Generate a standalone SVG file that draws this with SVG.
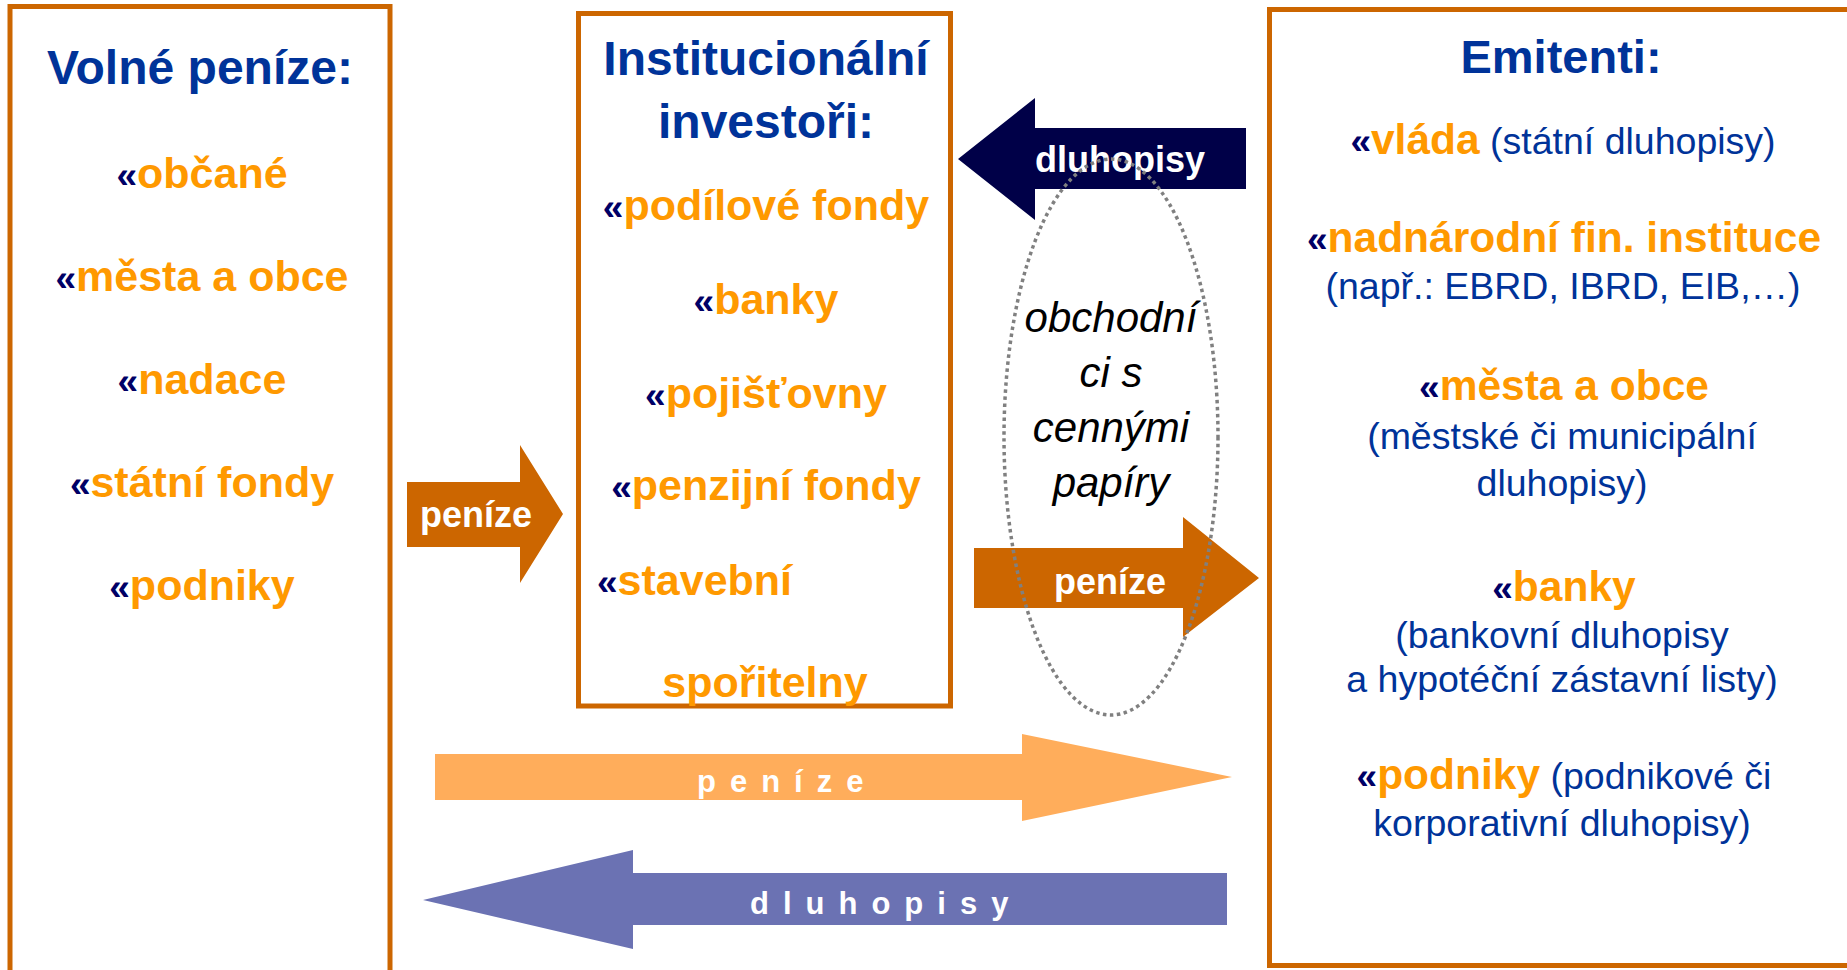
<svg xmlns="http://www.w3.org/2000/svg" width="1847" height="970" viewBox="0 0 1847 970">
<style>
text{font-family:"Liberation Sans",Arial,sans-serif}
.box{fill:none;stroke:#CC6600;stroke-width:5}
.title{font-size:48px;font-weight:bold;fill:#003399;text-anchor:middle}
.item{font-size:43px;font-weight:bold;fill:#FF9900}
.ri{font-size:42.5px;font-weight:bold;fill:#FF9900}
.mk{font-size:37px;font-weight:bold;fill:#000066}
.sub{font-size:37.5px;fill:#003399}
.c{text-anchor:middle}
.lbl{font-size:36px;font-weight:bold;fill:#FFFFFF;text-anchor:middle}
.sp{font-size:31px;font-weight:bold;fill:#FFFFFF;letter-spacing:14px}
.it{font-size:42px;font-style:italic;fill:#000000;text-anchor:middle}
</style>
<rect width="1847" height="970" fill="#FFFFFF"/>
<g id="volne-penize">
<rect class="box" x="10" y="6.5" width="380" height="1000"/>
<text class="title" x="200" y="84">Volné peníze:</text>
<text class="item c" x="202" y="188"><tspan class="mk">«</tspan>občané</text>
<text class="item c" x="202" y="291"><tspan class="mk">«</tspan>města a obce</text>
<text class="item c" x="202" y="394"><tspan class="mk">«</tspan>nadace</text>
<text class="item c" x="202" y="497"><tspan class="mk">«</tspan>státní fondy</text>
<text class="item c" x="202" y="600"><tspan class="mk">«</tspan>podniky</text>
</g>
<g id="institucionalni-investori">
<rect class="box" x="578.5" y="13.5" width="372" height="692.5"/>
<text class="title" x="766" y="75">Institucionální</text>
<text class="title" x="766" y="138">investoři:</text>
<text class="item c" x="766" y="220"><tspan class="mk">«</tspan>podílové fondy</text>
<text class="item c" x="766" y="314"><tspan class="mk">«</tspan>banky</text>
<text class="item c" x="766" y="408"><tspan class="mk">«</tspan>pojišťovny</text>
<text class="item c" x="766" y="500"><tspan class="mk">«</tspan>penzijní fondy</text>
<text class="item" x="597" y="595"><tspan class="mk">«</tspan>stavební</text>
<text class="item c" x="765" y="697">spořitelny</text>
</g>
<g id="emitenti">
<rect class="box" x="1269.5" y="9.5" width="620" height="956"/>
<text class="title" x="1561" y="73" style="font-size:47px">Emitenti:</text>
<text class="c" x="1563" y="154"><tspan class="mk">«</tspan><tspan class="ri">vláda</tspan><tspan class="sub"> (státní dluhopisy)</tspan></text>
<text class="ri c" x="1564" y="252"><tspan class="mk">«</tspan>nadnárodní fin. instituce</text>
<text class="sub c" x="1563" y="299">(např.: EBRD, IBRD, EIB,…)</text>
<text class="ri c" x="1564" y="400"><tspan class="mk">«</tspan>města a obce</text>
<text class="sub c" x="1562" y="449">(městské či municipální</text>
<text class="sub c" x="1562" y="496">dluhopisy)</text>
<text class="ri c" x="1564" y="601"><tspan class="mk">«</tspan>banky</text>
<text class="sub c" x="1562" y="648">(bankovní dluhopisy</text>
<text class="sub c" x="1562" y="692">a hypotéční zástavní listy)</text>
<text class="c" x="1564" y="789"><tspan class="mk">«</tspan><tspan class="ri">podniky</tspan><tspan class="sub"> (podnikové či</tspan></text>
<text class="sub c" x="1562" y="836">korporativní dluhopisy)</text>
</g>
<g id="connectors">
<g id="arrow-penize-left">
<polygon points="407,482 520,482 520,445 563,514 520,583 520,547 407,547" fill="#CC6600"/>
<text class="lbl" x="476" y="527">peníze</text>
</g>
<g id="arrow-dluhopisy-top">
<polygon points="958,159 1035,98 1035,128 1246,128 1246,189 1035,189 1035,220" fill="#000048"/>
<text class="lbl" x="1120" y="172">dluhopisy</text>
</g>
<g id="arrow-penize-mid">
<polygon points="974,548 1183,548 1183,517 1259,578 1183,637 1183,608 974,608" fill="#CC6600"/>
<text class="lbl" x="1110" y="594">peníze</text>
</g>
<g id="arrow-penize-bottom">
<polygon points="435,754 1022,754 1022,734 1232,777 1022,821 1022,800 435,800" fill="#FFAD5B"/>
<text class="sp" x="697" y="792">peníze</text>
</g>
<g id="arrow-dluhopisy-bottom">
<polygon points="423,900 633,850 633,873 1227,873 1227,925 633,925 633,949" fill="#6B72B3"/>
<text class="sp" x="750" y="914">dluhopisy</text>
</g>
</g>
<g id="obchodnici">
<ellipse cx="1111" cy="437" rx="107" ry="278" fill="none" stroke="#808080" stroke-width="3.5" stroke-dasharray="3.5 3.5"/>
<text class="it" x="1111" y="332">obchodní</text>
<text class="it" x="1111" y="387">ci s</text>
<text class="it" x="1111" y="442">cennými</text>
<text class="it" x="1111" y="497">papíry</text>
</g>
</svg>
